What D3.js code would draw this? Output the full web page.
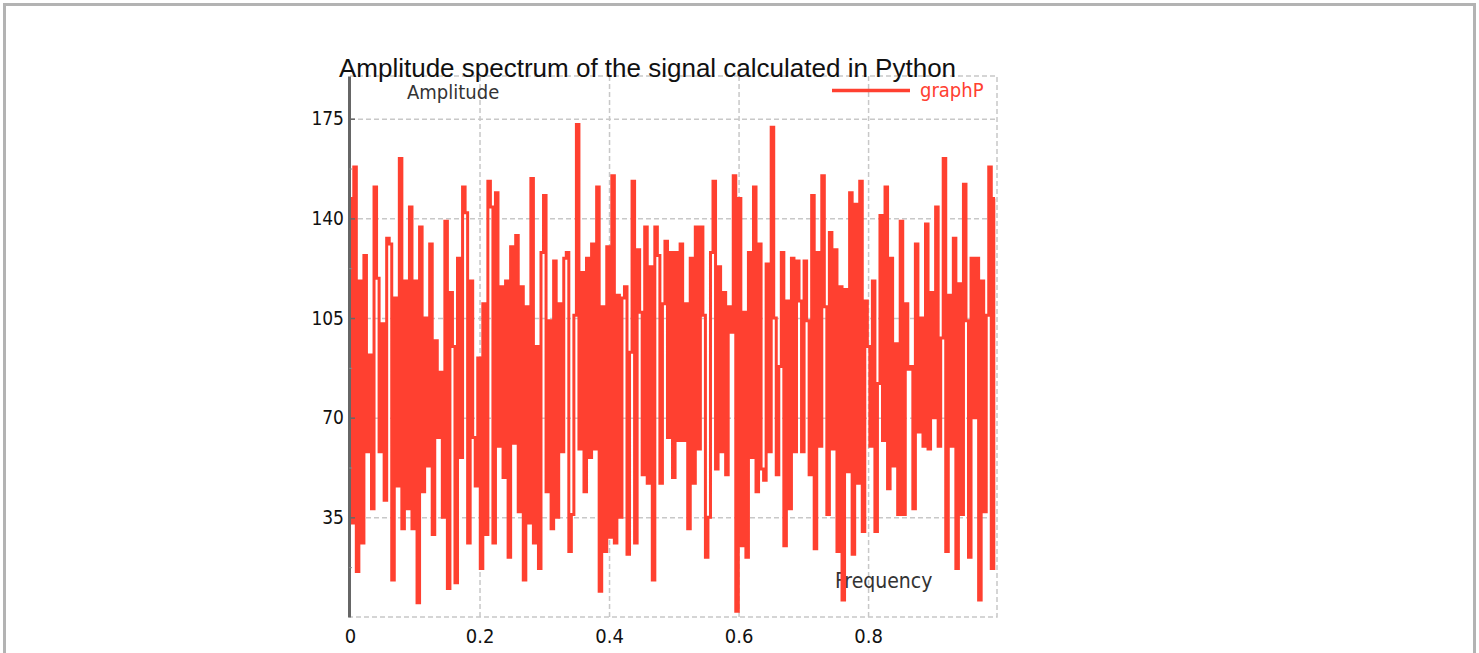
<!DOCTYPE html>
<html>
  <head>
    <meta charset="utf-8">
    <style>
      body { margin: 0; background: #fff; }
      .lbl { font-family: "DejaVu Sans Condensed", "DejaVu Sans", sans-serif; }
    </style>
    <script src="https://d3js.org/d3.v7.min.js"></script>
    <title>amplitude spectrum</title>
  </head>
  <body>
    <div id="chart"></div>
    <script>
    // values, one per frequency bin (256 bins over 0..1)
    var amplitude = [
      147,33,158,16,118,26,127,58,92,38,151,119,58,103,41,133,
      131,13,112,46,161,31,118,38,144,31,118,5,137,44,105,53,
      131,29,97,63,86,35,139,10,114,95,12,126,56,151,142,26,
      118,63,46,91,17,110,29,153,144,26,149,60,116,49,118,21,
      130,61,134,37,116,13,109,33,154,26,95,17,128,148,44,104,
      31,125,35,110,58,126,128,23,36,106,173,59,121,44,126,56,
      131,59,151,9,109,23,130,28,155,26,113,35,112,116,22,93,
      153,26,129,107,50,137,47,123,13,137,127,47,110,132,63,
      128,49,128,62,131,62,110,31,126,47,137,59,137,106,21,35,
      128,153,52,123,58,114,50,109,100,155,2,147,25,107,21,128,
      56,151,44,131,52,48,124,58,172,105,50,88,128,25,111,38,
      126,58,125,111,58,125,104,50,148,24,128,60,155,109,36,
      135,59,129,23,116,6,115,51,149,22,145,47,153,30,111,95,
      60,118,30,82,141,62,151,45,126,53,96,36,139,36,110,87,
      88,38,131,65,105,60,138,59,114,70,144,60,98,161,23,113,
      60,133,17,117,36,152,104,21,126,70,126,6,118,37,106,158,
      17,147
    ];
    var freqTicks = [0, 0.2, 0.4, 0.6, 0.8];
    var ampTicks = [35, 70, 105, 140, 175];
    var ampMinor = [17.5, 52.5, 87.5, 122.5, 157.5];
    var titleText = "Amplitude spectrum of the signal calculated in Python";
    var xLabel = "Frequency", yLabel = "Amplitude", seriesName = "graphP";

    var W = 1479, H = 653;
    // plot box (note: "top" is taken by window.top, so other names here)
    var pLeft = 350, pRight = 997, pTop = 76, pBottom = 617;
    var red = "#ff4030", grid = "#c8c8c8";

    var svg = d3.select("#chart").append("svg")
      .attr("width", W).attr("height", H);

    // outer frame of the window
    svg.append("rect")
      .attr("x", 4.5).attr("y", 4.5)
      .attr("width", W - 9).attr("height", H + 20)
      .attr("fill", "none").attr("stroke", "#b3b3b3").attr("stroke-width", 3);

    var x = d3.scaleLinear().domain([0, 1]).range([pLeft, pLeft + 647.6]);
    var y = d3.scaleLinear().domain([0, 190]).range([pBottom, pTop]);

    // dashed grid
    var gx = svg.append("g")
      .attr("transform", "translate(0," + pBottom + ")")
      .call(d3.axisBottom(x).tickValues(freqTicks.slice(1)).tickSize(-(pBottom - pTop)).tickFormat(""));
    var gy = svg.append("g")
      .attr("transform", "translate(" + pLeft + ",0)")
      .call(d3.axisLeft(y).tickValues(ampTicks).tickSize(-(pRight - pLeft)).tickFormat(""));
    [gx, gy].forEach(function(g) {
      g.select(".domain").remove();
      g.selectAll("line").attr("stroke", grid).attr("stroke-width", 1.5).attr("stroke-dasharray", "5,3");
    });
    svg.append("rect")
      .attr("x", pLeft).attr("y", pTop)
      .attr("width", pRight - pLeft).attr("height", pBottom - pTop)
      .attr("fill", "none").attr("stroke", grid).attr("stroke-width", 1.5).attr("stroke-dasharray", "5,3");

    // axis titles sit under the curve
    svg.append("text").attr("class", "lbl")
      .attr("x", 407).attr("y", 99)
      .style("font-size", "20px").attr("fill", "#333")
      .text(yLabel);
    svg.append("text").attr("class", "lbl")
      .attr("x", 835).attr("y", 588)
      .style("font-size", "21px").attr("fill", "#333")
      .text(xLabel);

    // the spectrum
    var line = d3.line()
      .x(function(d, i) { return x(i / amplitude.length); })
      .y(function(d) { return y(d); })
      .curve(d3.curveStep);
    svg.append("path")
      .datum(amplitude)
      .attr("d", line)
      .attr("fill", "none")
      .attr("stroke", red)
      .attr("stroke-width", 3);

    // y axis
    var ya = svg.append("g")
      .attr("transform", "translate(" + (pLeft - 1) + ",0)")
      .call(d3.axisLeft(y).tickValues(ampTicks).tickSize(-6).tickSizeOuter(0).tickPadding(5));
    ya.select(".domain").attr("stroke", "#666").attr("stroke-width", 3);
    ya.selectAll("line").attr("stroke", "#666").attr("stroke-width", 1.5);
    ya.selectAll("text").attr("class", "lbl").style("font-size", "19px").attr("fill", "#111");
    var ym = svg.append("g")
      .attr("transform", "translate(" + (pLeft - 1) + ",0)")
      .call(d3.axisLeft(y).tickValues(ampMinor).tickSize(-3).tickFormat(""));
    ym.select(".domain").remove();
    ym.selectAll("line").attr("stroke", "#888");

    // x tick labels
    var xa = svg.append("g")
      .attr("transform", "translate(0," + pBottom + ")")
      .call(d3.axisBottom(x).tickValues(freqTicks).tickSize(0).tickPadding(12).tickFormat(d3.format("~g")));
    xa.select(".domain").remove();
    xa.selectAll("text").attr("class", "lbl").style("font-size", "20px").attr("fill", "#111");

    // legend
    svg.append("line")
      .attr("x1", 832).attr("x2", 910).attr("y1", 90.5).attr("y2", 90.5)
      .attr("stroke", red).attr("stroke-width", 3.5);
    svg.append("text").attr("class", "lbl")
      .attr("x", 920).attr("y", 97)
      .style("font-size", "20px").attr("fill", red)
      .text(seriesName);

    // title
    svg.append("text")
      .attr("x", 647.5).attr("y", 77)
      .attr("text-anchor", "middle")
      .style("font-family", "'Liberation Sans', Arial, sans-serif")
      .style("font-size", "26px").attr("fill", "#111")
      .text(titleText);
    </script>
  </body>
</html>
